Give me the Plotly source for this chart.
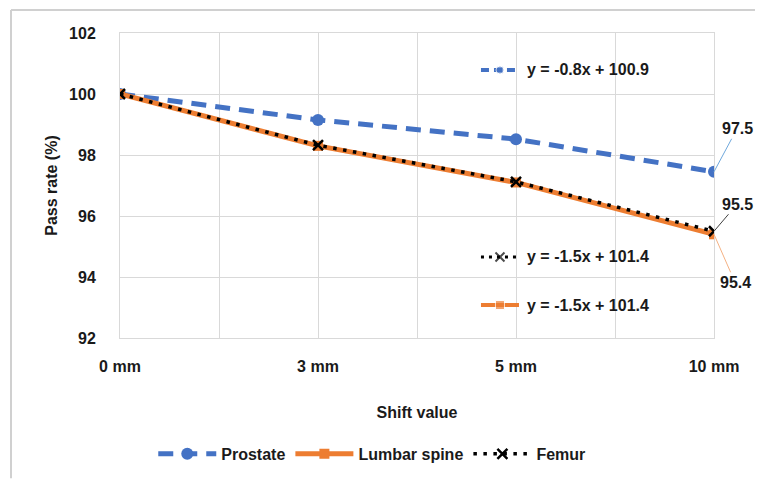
import plotly.graph_objects as go

categories = ["0 mm", "3 mm", "5 mm", "10 mm"]
prostate = [100.0, 99.15, 98.52, 97.45]
lumbar = [100.0, 98.3, 97.1, 95.4]
femur = [100.0, 98.32, 97.12, 95.5]
series_names = ["Prostate", "Lumbar spine", "Femur"]
trend_labels = ["y = -0.8x + 100.9", "y = -1.5x + 101.4", "y = -1.5x + 101.4"]
end_labels = ["97.5", "95.4", "95.5"]

BLUE = "#4472C4"
ORANGE = "#ED7D31"
BLACK = "#000000"
FONT = "Liberation Sans"

xi = list(range(len(categories)))

fig = go.Figure()
fig.add_trace(go.Scatter(x=xi, y=prostate, name=series_names[0], mode="lines+markers",
                         line=dict(color=BLUE, width=5, dash="15px,9px"),
                         marker=dict(symbol="circle", size=12, color=BLUE)))
fig.add_trace(go.Scatter(x=xi, y=lumbar, name=series_names[1], mode="lines+markers",
                         line=dict(color=ORANGE, width=5),
                         marker=dict(symbol="square", size=10, color=ORANGE)))
fig.add_trace(go.Scatter(x=xi, y=femur, name=series_names[2], mode="lines+markers",
                         line=dict(color=BLACK, width=3.5, dash="3.5px,6.5px"),
                         marker=dict(symbol="x-thin", size=10, color=BLACK,
                                     line=dict(color=BLACK, width=2.5))))

# trendline equation keys (in plot-area fractions on hidden overlay axes)
kx = [0.6077, 0.6397, 0.6717]
key_y = [0.8787, 0.108, 0.2656]
key_styles = [
    dict(line=dict(color=BLUE, width=4, dash="8px,5px"), marker=dict(symbol="circle", size=[0, 8, 0], color=BLUE)),
    dict(line=dict(color=ORANGE, width=4), marker=dict(symbol="square", size=[0, 9, 0], color=ORANGE)),
    dict(line=dict(color=BLACK, width=3, dash="3px,5px"),
         marker=dict(symbol="x-thin", size=[0, 9, 0], color=BLACK, line=dict(color=BLACK, width=2))),
]
for ky, st in zip(key_y, key_styles):
    fig.add_trace(go.Scatter(x=kx, y=[ky] * 3, mode="lines+markers", xaxis="x2", yaxis="y2",
                             showlegend=False, hoverinfo="skip", **st))
for ky, txt in zip(key_y, trend_labels):
    fig.add_annotation(x=0.6818, y=ky, xref="paper", yref="paper", text=txt, showarrow=False,
                       xanchor="left", yanchor="middle",
                       font=dict(family=FONT, size=16, color="#1a1a1a", weight="bold"))

# end-point data labels with leader lines
lab_font = dict(family=FONT, size=16, color="#1a1a1a", weight="bold")
fig.add_annotation(x=3, y=prostate[-1], text=end_labels[0], showarrow=True, arrowhead=0,
                   arrowwidth=1, arrowcolor="#6FA8DC", ax=23, ay=-43, font=lab_font)
fig.add_annotation(x=3, y=femur[-1], text=end_labels[2], showarrow=True, arrowhead=0,
                   arrowwidth=1, arrowcolor="#404040", ax=23, ay=-27, font=lab_font)
fig.add_annotation(x=3, y=lumbar[-1], text=end_labels[1], showarrow=True, arrowhead=0,
                   arrowwidth=1, arrowcolor="#F4B183", ax=21, ay=48, font=lab_font)

# outer frame (top and left edges)
fig.add_shape(type="line", xref="paper", yref="paper", x0=-0.1835, x1=1.0825, y0=1.0754, y1=1.0754,
              line=dict(color="#d0d0d0", width=2))
fig.add_shape(type="line", xref="paper", yref="paper", x0=-0.1835, x1=-0.1835, y0=-0.46, y1=1.0754,
              line=dict(color="#d0d0d0", width=2))

tickfont = dict(family=FONT, size=16, color="#1a1a1a", weight="bold")
title_font = dict(family=FONT, size=16, color="#1a1a1a", weight="bold")
fig.update_layout(
    width=755, height=471,
    margin=dict(l=112, r=49, t=25, b=141, autoexpand=False),
    paper_bgcolor="white", plot_bgcolor="white",
    font=dict(family=FONT, size=16, color="#1a1a1a"),
    xaxis=dict(range=[0, 3], tickvals=xi, ticktext=categories, showgrid=True,
               gridcolor="#d9d9d9", gridwidth=1, zeroline=False, automargin=False,
               minor=dict(dtick=0.5, showgrid=True, gridcolor="#d9d9d9", gridwidth=1),
               showline=True, linecolor="#d9d9d9", linewidth=1, mirror=True,
               ticks="", tickfont=tickfont, ticklabelstandoff=14,
               title=dict(text="Shift value", font=title_font, standoff=32)),
    yaxis=dict(range=[92, 102], dtick=2, showgrid=True, gridcolor="#d9d9d9", gridwidth=1,
               zeroline=False, showline=True, linecolor="#d9d9d9", linewidth=1, mirror=True,
               automargin=False, ticks="", tickfont=tickfont, ticklabelstandoff=20,
               title=dict(text="Pass rate (%)", font=title_font, standoff=7)),
    xaxis2=dict(overlaying="x", range=[0, 1], visible=False),
    yaxis2=dict(overlaying="y", range=[0, 1], visible=False),
    legend=dict(orientation="h", x=0.056, xanchor="left", y=-0.38, yanchor="middle",
                font=dict(family=FONT, size=16, color="#1a1a1a", weight="bold"),
                itemwidth=58, bgcolor="rgba(0,0,0,0)"),
    showlegend=True,
)

fig.write_html("out.html")
